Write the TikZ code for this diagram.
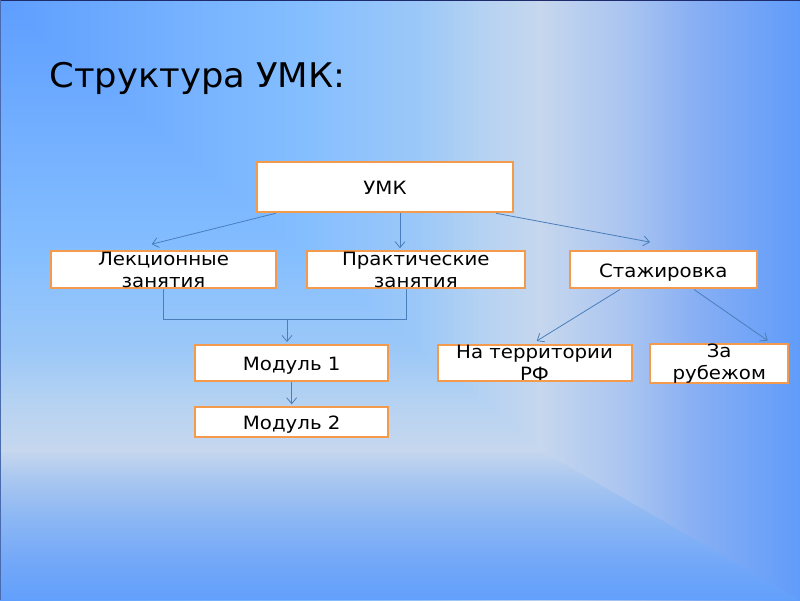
\documentclass[tikz,border=0pt]{standalone}
\usepackage{fontspec}
\setmainfont{DejaVu Sans}
\newfontfamily\widefont[FakeStretch=1.08]{DejaVu Sans}
\newfontfamily\titlefont[FakeStretch=1.04]{DejaVu Sans}
\usetikzlibrary{arrows.meta}

\definecolor{boxorange}{HTML}{F39A4C}
\definecolor{linkblue}{HTML}{4A7EBB}
\definecolor{framenavy}{HTML}{1E2C6E}
\definecolor{frameleft}{HTML}{4A6AAE}
% slide background colours
\definecolor{bgA}{HTML}{5E9EFF}
\definecolor{bgB}{HTML}{84BEFF}
\definecolor{bgC}{HTML}{9CC8F8}
\definecolor{bgD}{HTML}{B4D2F2}
\definecolor{bgE}{HTML}{C6D7EE}
\definecolor{bgF}{HTML}{ACC6F0}
\definecolor{bgG}{HTML}{86AEF4}
\definecolor{bgH}{HTML}{609CFA}
\definecolor{bgI}{HTML}{62A0FC}
\definecolor{bgJ}{HTML}{74A8F8}
\definecolor{bgK}{HTML}{8AB6F4}
\definecolor{bgL}{HTML}{A8C6F0}

\pgfdeclarehorizontalshading{bgh}{100bp}{%
  color(0bp)=(bgA); color(25bp)=(bgA);
  color(43.75bp)=(bgB); color(51.25bp)=(bgC);
  color(55bp)=(bgD); color(58.75bp)=(bgE);
  color(63.75bp)=(bgF); color(68.75bp)=(bgG);
  color(75bp)=(bgH); color(100bp)=(bgH)}
\pgfdeclareverticalshading{bgv}{100bp}{%
  color(0bp)=(bgI); color(25bp)=(bgI);
  color(28.33bp)=(bgJ); color(31.67bp)=(bgK);
  color(35bp)=(bgL); color(37.5bp)=(bgE);
  color(41.67bp)=(bgD); color(45.83bp)=(bgC);
  color(54.17bp)=(bgB); color(75bp)=(bgA); color(100bp)=(bgA)}

\tikzset{
  box/.style={draw=boxorange, line width=2pt, fill=white, inner sep=0pt,
    align=center, font=\widefont\fontsize{18.3}{22}\selectfont},
  box1/.style={box, text height=15pt, text depth=0pt},
  link/.style={draw=linkblue, line width=0.8pt}
}

\begin{document}
\begin{tikzpicture}[x=1pt,y=1pt,>={Straight Barb[length=6pt,width=10pt]}]
  \useasboundingbox (0,0) rectangle (800,600);
  \shade[shading=bgh] (0,0) rectangle (800,600);
  \begin{scope}
    \clip (540,150) -- (0,600) -- (0,0) -- (800,0) -- cycle;
    \shade[shading=bgv] (0,0) rectangle (800,600);
  \end{scope}
  \draw[line width=2pt, framenavy] (0,600) -- (800,600);
  \draw[line width=2pt, frameleft] (0,0) -- (0,600);

  \node[anchor=base west, font=\titlefont\fontsize{34}{40}\selectfont] (title)
    at (46,512.7) {Структура УМК:};

  \draw
    (385,412.7) node[box1, minimum width=256pt, minimum height=50pt] (0) {УМК}
    (163.5,330.3) node[box, minimum width=225pt, minimum height=37pt] (1) {Лекционные\\занятия}
    (415.8,330.3) node[box, minimum width=218pt, minimum height=37pt] (2) {Практические\\занятия}
    (663.3,330) node[box1, minimum width=187pt, minimum height=37pt] (3) {Стажировка}
    (291.7,237) node[box1, minimum width=193pt, minimum height=36pt] (4) {Модуль 1}
    (291.7,178) node[box1, minimum width=193pt, minimum height=30pt] (5) {Модуль 2}
    (534.5,236.7) node[box, minimum width=194pt, minimum height=36pt] (6) {На территории\\РФ}
    (719.2,236.7) node[box, minimum width=138pt, minimum height=36pt] (7) {За\\рубежом};

  \coordinate (j) at (287,281);
  \begin{scope}[link,->]
    \draw ([xshift=19.7pt]0.south west) to ([xshift=-11.8pt,yshift=6pt]1.north);
    \draw ([xshift=15pt]0.south) to ([xshift=-15.8pt,yshift=2pt]2.north);
    \draw ([xshift=-18pt]0.south east) to ([xshift=-13.3pt,yshift=8.4pt]3.north);
    \draw (j) to ([xshift=-4.7pt,yshift=2pt]4.north);
    \draw (4) to ([yshift=1.7pt]5.north);
    \draw ([xshift=-43.3pt]3.south) to ([xshift=2.2pt,yshift=3.3pt]6.north);
    \draw ([xshift=30.7pt]3.south) to ([xshift=48.5pt,yshift=2pt]7.north);
  \end{scope}
  \begin{scope}[link,-]
    \draw (1.south) |- (j);
    \draw ([xshift=-9pt]2.south) |- (j);
  \end{scope}
\end{tikzpicture}
\end{document}
